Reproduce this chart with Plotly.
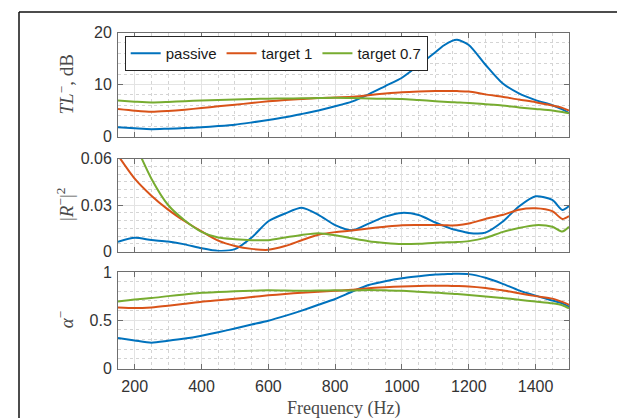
import plotly.graph_objects as go

freq = [150, 200, 250, 300, 350, 400, 450, 500, 550, 600, 650, 700, 750, 800, 850,
        900, 950, 1000, 1050, 1100, 1125, 1150, 1165, 1200, 1250, 1300, 1350, 1400, 1450, 1480, 1500]

tl_passive = [1.77, 1.57, 1.40, 1.50, 1.62, 1.77, 2.00, 2.27, 2.70, 3.17, 3.70, 4.33, 5.00, 5.80, 6.70,
              8.10, 9.70, 11.3, 13.7, 16.2, 17.5, 18.4, 18.6, 17.6, 13.8, 10.3, 8.3, 7.0, 6.0, 5.2, 4.5]
tl_target1 = [5.30, 4.97, 4.75, 4.90, 5.15, 5.48, 5.80, 6.10, 6.45, 6.76, 7.00, 7.20, 7.40, 7.50, 7.65,
              7.95, 8.25, 8.50, 8.65, 8.75, 8.76, 8.75, 8.73, 8.65, 8.10, 7.65, 7.10, 6.60, 5.95, 5.50, 5.00]
tl_target07 = [6.90, 6.70, 6.55, 6.65, 6.80, 6.90, 7.00, 7.10, 7.20, 7.27, 7.30, 7.35, 7.40, 7.45, 7.40,
               7.30, 7.25, 7.20, 7.00, 6.80, 6.70, 6.60, 6.55, 6.45, 6.20, 5.95, 5.60, 5.30, 5.00, 4.70, 4.45]

r_passive = [0.0062, 0.0088, 0.0074, 0.0064, 0.0046, 0.0021, 0.0004, 0.0015, 0.0090, 0.0195, 0.0245, 0.0282, 0.0237, 0.0170, 0.0137,
             0.0180, 0.0225, 0.0249, 0.0235, 0.0187, 0.0165, 0.0145, 0.0137, 0.0120, 0.0122, 0.0190, 0.0290, 0.0356, 0.0333, 0.0268, 0.0294]
r_target1 = [0.0620, 0.0470, 0.0360, 0.0270, 0.0195, 0.0130, 0.0070, 0.0036, 0.0017, 0.0011, 0.0035, 0.0073, 0.0108, 0.0125, 0.0135,
             0.0148, 0.0160, 0.0170, 0.0171, 0.0171, 0.0170, 0.0168, 0.0169, 0.0180, 0.0210, 0.0235, 0.0270, 0.0279, 0.0260, 0.0210, 0.0229]
r_target07 = [0.0950, 0.0700, 0.0470, 0.0300, 0.0200, 0.0127, 0.0090, 0.0079, 0.0073, 0.0073, 0.0090, 0.0107, 0.0118, 0.0105, 0.0085,
              0.0066, 0.0055, 0.0048, 0.0050, 0.0057, 0.0058, 0.0060, 0.0061, 0.0067, 0.0088, 0.0125, 0.0152, 0.0170, 0.0160, 0.0129, 0.0159]

a_passive = [0.315, 0.290, 0.268, 0.287, 0.310, 0.340, 0.375, 0.415, 0.455, 0.495, 0.545, 0.600, 0.660, 0.720, 0.795,
             0.865, 0.905, 0.935, 0.955, 0.973, 0.977, 0.980, 0.982, 0.978, 0.940, 0.880, 0.810, 0.755, 0.705, 0.675, 0.640]
a_target1 = [0.633, 0.626, 0.633, 0.650, 0.670, 0.692, 0.708, 0.723, 0.740, 0.758, 0.772, 0.785, 0.795, 0.806, 0.815,
             0.832, 0.842, 0.850, 0.855, 0.858, 0.857, 0.856, 0.855, 0.851, 0.835, 0.810, 0.780, 0.750, 0.724, 0.690, 0.660]
a_target07 = [0.695, 0.716, 0.730, 0.750, 0.768, 0.785, 0.793, 0.800, 0.806, 0.810, 0.808, 0.806, 0.808, 0.810, 0.808,
              0.813, 0.810, 0.806, 0.796, 0.786, 0.781, 0.775, 0.771, 0.762, 0.747, 0.731, 0.712, 0.694, 0.675, 0.655, 0.623]

series_names = ["passive", "target 1", "target 0.7"]
colors = ["#0072BD", "#D95319", "#77AC30"]
x_ticks = [200, 400, 600, 800, 1000, 1200, 1400]

W, H = 625, 418
X0, X1 = 110, 561
panels = [  # (top px, bottom px)
    (24.5, 128.5),
    (150.5, 243.5),
    (264.0, 360.5),
]

fig = go.Figure()

panel_data = [
    [tl_passive, tl_target1, tl_target07],
    [r_passive, r_target1, r_target07],
    [a_passive, a_target1, a_target07],
]

for pi, data in enumerate(panel_data):
    xa = "x" if pi == 0 else f"x{pi+1}"
    ya = "y" if pi == 0 else f"y{pi+1}"
    for si, vals in enumerate(data):
        fig.add_trace(go.Scatter(
            x=freq, y=vals, mode="lines", name=series_names[si],
            line=dict(color=colors[si], width=2, shape="spline", smoothing=0.7),
            xaxis=xa, yaxis=ya, showlegend=(pi == 0),
            cliponaxis=True,
        ))

axis_line = "#6e6e6e"
tick_font = dict(family="Liberation Sans, Arial, sans-serif", size=16, color="#333333")
grid_major = "#e3e3e3"
grid_minor = "#d4d4d4"

y_specs = [
    dict(range=[0, 20], tickvals=[0, 10, 20], ticktext=["0", "10", "20"], minor_dtick=2),
    dict(range=[0, 0.06], tickvals=[0, 0.03, 0.06], ticktext=["0", "0.03", "0.06"], minor_dtick=0.005),
    dict(range=[0, 1], tickvals=[0, 0.5, 1], ticktext=["0", "0.5", "1"], minor_dtick=0.1),
]

layout = dict(
    width=W, height=H,
    margin=dict(l=0, r=0, t=0, b=0),
    template="none",
    paper_bgcolor="white",
    plot_bgcolor="white",
    showlegend=True,
    legend=dict(
        orientation="h",
        x=116.7 / W, y=1 - 28 / H, xanchor="left", yanchor="top",
        bgcolor="white", bordercolor="#262626", borderwidth=1,
        font=dict(family="Liberation Sans, Arial, sans-serif", size=15, color="#1a1a1a"),
        itemwidth=30, tracegroupgap=0,
    ),
)

for pi, (top, bot) in enumerate(panels):
    xkey = "xaxis" if pi == 0 else f"xaxis{pi+1}"
    ykey = "yaxis" if pi == 0 else f"yaxis{pi+1}"
    ydom = [1 - bot / H, 1 - top / H]
    spec = y_specs[pi]
    xdict = dict(
        domain=[X0 / W, X1 / W], range=[150, 1500],
        anchor="y" if pi == 0 else f"y{pi+1}",
        tickvals=x_ticks,
        showticklabels=(pi == 2),
        ticks="inside", ticklen=5, tickcolor=axis_line, tickwidth=1,
        showline=True, linecolor=axis_line, linewidth=1, mirror="allticks",
        showgrid=True, gridcolor=grid_major, gridwidth=1,
        minor=dict(dtick=50, tick0=0, showgrid=True, gridcolor=grid_minor, griddash="dot", gridwidth=1, ticks=""),
        zeroline=False, automargin=False, tickfont=tick_font,
    )
    if pi == 2:
        xdict["ticktext"] = [str(v) for v in x_ticks]
        xdict["ticklabelstandoff"] = 3
    layout[xkey] = xdict
    layout[ykey] = dict(
        domain=ydom, range=spec["range"],
        anchor="x" if pi == 0 else f"x{pi+1}",
        tickvals=spec["tickvals"], ticktext=spec["ticktext"],
        ticks="inside", ticklen=5, tickcolor=axis_line, tickwidth=1,
        showline=True, linecolor=axis_line, linewidth=1, mirror="allticks",
        showgrid=True, gridcolor=grid_major, gridwidth=1,
        minor=dict(dtick=spec["minor_dtick"], tick0=0, showgrid=True, gridcolor=grid_minor, griddash="dot", gridwidth=1, ticks=""),
        zeroline=False, automargin=False, tickfont=tick_font, ticklabelstandoff=2,
    )

fig.update_layout(**layout)

title_font = dict(family="Liberation Serif, Times New Roman, serif", size=19, color="#4a4a4a")
y_titles = ["<i>TL</i><sup>\u2212</sup>, dB", "|<i>R</i><sup>\u2212</sup>|<sup>2</sup>", "<i>\u03b1</i><sup>\u2212</sup>"]
for pi, (top, bot) in enumerate(panels):
    fig.add_annotation(
        text=y_titles[pi], xref="paper", yref="paper",
        x=57 / W, y=1 - (top + bot) / 2 / H, xanchor="center", yanchor="middle",
        textangle=-90, showarrow=False, font=title_font,
    )

fig.add_annotation(
    text="Frequency (Hz)", xref="paper", yref="paper",
    x=(X0 + X1) / 2 / W, y=1 - 400 / H, xanchor="center", yanchor="middle",
    showarrow=False, font=dict(family="Liberation Serif, Times New Roman, serif", size=18, color="#4a4a4a"),
)

# outer frame (top and left edges of the enclosing box)
fig.add_shape(type="line", xref="paper", yref="paper", x0=11 / W, x1=1.0, y0=1 - 4 / H, y1=1 - 4 / H,
              line=dict(color="#111111", width=1.5))
fig.add_shape(type="line", xref="paper", yref="paper", x0=11 / W, x1=11 / W, y0=0, y1=1 - 4 / H,
              line=dict(color="#111111", width=1.5))

fig.write_html("out.html")
